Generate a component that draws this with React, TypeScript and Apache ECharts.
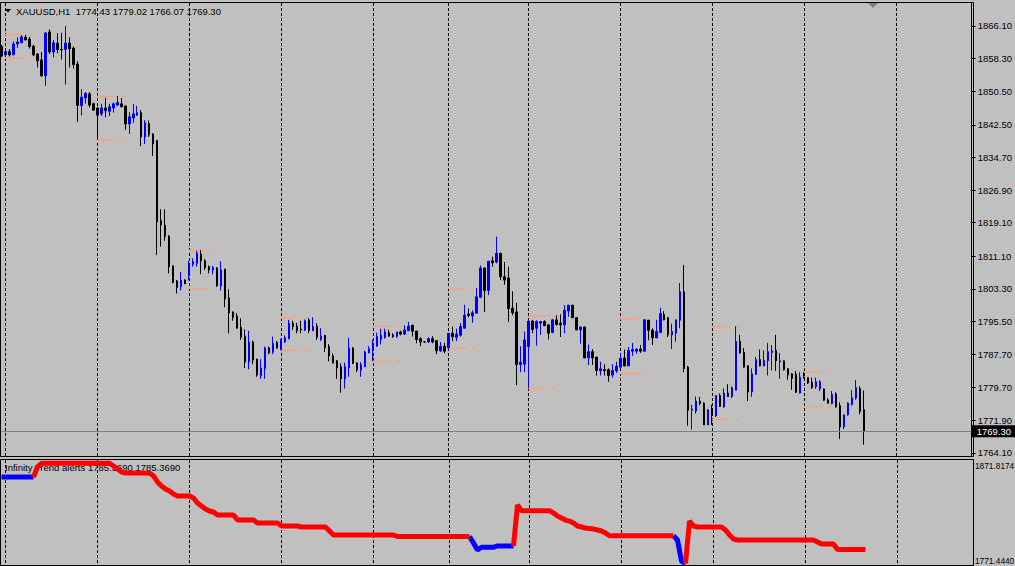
import React, { useEffect, useRef } from 'react';
import * as echarts from 'echarts';

const SYMBOL = 'XAUUSD,H1';
const LAST_OHLC = [1774.43, 1779.02, 1766.07, 1769.3];
const INDICATOR_NAME = 'Infinity Trend alerts';
const INDICATOR_LAST = [1785.369, 1785.369];

const opens = [
  1861.2, 1859.2, 1860.0, 1859.2, 1861.8, 1862.1, 1863.4, 1863.0, 1861.3, 1859.4,
  1858.0, 1854.2, 1864.7, 1859.9, 1862.0, 1860.5, 1860.5, 1862.0, 1860.8, 1857.0,
  1847.1, 1848.9, 1849.9, 1847.5, 1846.5, 1845.1, 1846.5, 1845.7, 1846.5, 1847.2,
  1847.5, 1847.0, 1842.7, 1844.1, 1844.8, 1845.4, 1839.6, 1842.8, 1840.3, 1838.7,
  1819.6, 1818.5, 1815.9, 1808.8, 1805.2, 1803.8, 1805.4, 1806.4, 1809.1, 1809.4,
  1811.6, 1810.0, 1808.6, 1807.8, 1808.3, 1804.0, 1808.0, 1801.1, 1797.8, 1796.8,
  1794.1, 1792.0, 1785.8, 1790.6, 1786.5, 1782.5, 1784.2, 1789.2, 1788.2, 1790.6,
  1788.7, 1790.6, 1791.4, 1795.1, 1794.4, 1793.7, 1793.5, 1795.9, 1793.3, 1794.4,
  1791.2, 1792.2, 1789.5, 1787.3, 1786.1, 1784.7, 1781.8, 1784.4, 1789.2, 1785.6,
  1783.9, 1784.7, 1788.0, 1789.0, 1789.6, 1791.2, 1791.7, 1792.8, 1792.3, 1791.9,
  1793.0, 1792.5, 1793.3, 1794.6, 1793.2, 1791.4, 1790.6, 1790.6, 1791.4, 1790.9,
  1788.5, 1789.6, 1789.2, 1792.7, 1791.7, 1792.2, 1793.9, 1797.3, 1796.8, 1797.5,
  1801.3, 1808.3, 1802.9, 1810.0, 1809.7, 1811.8, 1806.2, 1805.9, 1798.7, 1797.8,
  1785.2, 1785.3, 1789.5, 1795.6, 1793.9, 1795.1, 1795.5, 1794.7, 1792.9, 1795.9,
  1795.1, 1794.7, 1798.0, 1799.4, 1796.4, 1793.5, 1794.2, 1786.8, 1788.3, 1787.0,
  1783.7, 1784.0, 1784.0, 1782.7, 1783.7, 1784.6, 1786.8, 1784.9, 1788.4, 1788.4,
  1788.9, 1788.4, 1795.8, 1793.4, 1791.6, 1792.9, 1797.2, 1796.4, 1792.3, 1792.7,
  1795.8, 1802.6, 1784.6, 1774.3, 1774.1, 1776.5, 1776.0, 1770.8, 1774.8, 1773.0,
  1777.8, 1775.1, 1778.4, 1777.6, 1779.1, 1790.8, 1788.1, 1784.9, 1778.7, 1782.9,
  1786.4, 1784.9, 1786.1, 1788.1, 1788.6, 1785.9, 1786.1, 1784.2, 1783.0, 1782.9,
  1778.4, 1782.2, 1782.1, 1781.0, 1779.9, 1779.4, 1779.4, 1776.8, 1775.9, 1778.2,
  1775.4, 1770.3, 1773.2, 1775.7, 1777.2, 1779.5, 1774.43,
];

const highs = [
  1861.6, 1860.6, 1860.6, 1862.4, 1863.4, 1863.9, 1864.0, 1863.5, 1861.6, 1859.6,
  1859.9, 1864.7, 1865.3, 1862.8, 1864.4, 1864.5, 1866.1, 1863.4, 1861.2, 1857.7,
  1851.0, 1850.3, 1850.3, 1847.8, 1846.7, 1847.5, 1848.9, 1847.5, 1847.8, 1849.4,
  1848.9, 1847.0, 1845.5, 1847.5, 1847.0, 1846.0, 1843.6, 1843.5, 1840.5, 1838.9,
  1822.3, 1822.3, 1816.1, 1808.8, 1805.4, 1807.3, 1805.6, 1810.0, 1810.6, 1812.4,
  1812.6, 1810.4, 1808.9, 1808.8, 1808.5, 1809.9, 1808.1, 1803.2, 1797.9, 1797.5,
  1796.3, 1793.6, 1793.3, 1790.9, 1786.6, 1786.5, 1789.5, 1789.5, 1791.9, 1790.8,
  1791.4, 1792.2, 1795.9, 1795.7, 1795.2, 1795.7, 1796.0, 1796.3, 1796.5, 1795.1,
  1793.9, 1792.3, 1790.1, 1787.9, 1786.3, 1785.5, 1785.7, 1791.6, 1789.4, 1785.8,
  1785.8, 1788.5, 1789.6, 1791.2, 1792.8, 1793.8, 1793.8, 1793.5, 1792.7, 1793.0,
  1793.3, 1794.6, 1795.4, 1794.7, 1793.3, 1791.7, 1790.8, 1791.7, 1792.0, 1791.1,
  1790.6, 1790.4, 1792.7, 1794.3, 1793.8, 1795.1, 1799.5, 1798.6, 1798.2, 1803.5,
  1808.9, 1808.3, 1810.0, 1811.0, 1815.8, 1811.8, 1809.7, 1808.6, 1802.7, 1800.0,
  1789.6, 1793.1, 1795.9, 1795.8, 1795.8, 1795.6, 1795.8, 1794.8, 1796.1, 1797.0,
  1797.2, 1799.4, 1799.4, 1799.4, 1796.6, 1794.2, 1794.3, 1790.0, 1788.9, 1787.0,
  1785.9, 1785.3, 1784.3, 1785.3, 1785.9, 1788.0, 1788.8, 1789.4, 1790.4, 1789.1,
  1789.9, 1796.1, 1795.9, 1793.9, 1795.9, 1798.8, 1798.0, 1796.6, 1795.0, 1795.9,
  1804.7, 1809.0, 1784.9, 1775.6, 1777.6, 1777.5, 1776.2, 1774.6, 1775.6, 1777.9,
  1778.3, 1779.5, 1780.5, 1780.0, 1794.4, 1792.3, 1789.2, 1785.1, 1784.3, 1787.0,
  1788.8, 1788.6, 1790.4, 1789.9, 1792.3, 1788.0, 1786.2, 1784.3, 1783.2, 1783.7,
  1783.4, 1783.4, 1782.1, 1782.1, 1782.1, 1781.5, 1779.5, 1777.2, 1778.9, 1778.6,
  1776.2, 1773.2, 1776.2, 1779.1, 1781.5, 1780.0, 1779.02,
];

const lows = [
  1858.7, 1858.7, 1858.8, 1859.2, 1860.8, 1862.0, 1862.6, 1860.7, 1858.9, 1856.2,
  1854.0, 1851.8, 1859.4, 1858.6, 1859.6, 1858.1, 1852.1, 1856.2, 1855.9, 1843.2,
  1844.7, 1847.6, 1846.7, 1845.9, 1838.9, 1844.6, 1844.3, 1844.6, 1845.4, 1847.0,
  1846.7, 1841.3, 1840.3, 1843.0, 1844.6, 1837.4, 1837.9, 1839.6, 1835.0, 1811.4,
  1813.4, 1814.8, 1807.0, 1804.6, 1802.2, 1802.9, 1804.5, 1805.3, 1808.6, 1808.6,
  1806.8, 1807.8, 1807.0, 1806.8, 1803.8, 1802.9, 1798.9, 1792.7, 1795.7, 1793.8,
  1791.1, 1784.4, 1784.1, 1785.3, 1782.3, 1781.8, 1781.8, 1787.7, 1787.7, 1789.0,
  1788.7, 1790.4, 1791.2, 1793.5, 1792.7, 1792.7, 1793.2, 1792.7, 1793.2, 1791.1,
  1790.8, 1788.2, 1786.0, 1785.5, 1781.8, 1778.5, 1779.5, 1782.3, 1785.3, 1783.4,
  1782.3, 1784.6, 1787.9, 1786.1, 1789.5, 1790.0, 1791.4, 1791.9, 1791.6, 1791.6,
  1792.2, 1792.3, 1793.2, 1791.9, 1790.3, 1789.6, 1790.4, 1790.4, 1790.3, 1787.7,
  1788.2, 1787.9, 1789.0, 1790.8, 1790.8, 1791.9, 1793.8, 1796.5, 1795.2, 1797.3,
  1801.1, 1797.8, 1801.8, 1808.6, 1809.4, 1805.4, 1804.3, 1795.4, 1797.0, 1780.3,
  1783.4, 1783.4, 1779.5, 1792.7, 1789.7, 1792.3, 1794.4, 1791.2, 1792.7, 1794.5,
  1791.8, 1792.7, 1796.6, 1796.4, 1793.4, 1790.2, 1786.7, 1785.1, 1785.1, 1782.6,
  1782.6, 1782.6, 1781.1, 1782.1, 1783.2, 1784.5, 1784.8, 1784.9, 1787.3, 1787.8,
  1788.0, 1788.4, 1791.0, 1789.9, 1791.5, 1792.7, 1795.8, 1791.8, 1788.9, 1790.7,
  1793.9, 1783.4, 1770.6, 1769.7, 1773.5, 1775.5, 1770.8, 1770.8, 1770.8, 1772.7,
  1775.1, 1774.9, 1777.5, 1777.2, 1779.1, 1787.8, 1784.5, 1776.5, 1777.5, 1782.7,
  1784.8, 1784.8, 1782.6, 1783.8, 1783.7, 1781.8, 1783.8, 1781.6, 1779.2, 1778.4,
  1778.3, 1781.8, 1780.6, 1779.4, 1779.4, 1778.9, 1776.5, 1775.9, 1775.7, 1774.9,
  1767.4, 1769.8, 1773.0, 1775.4, 1776.8, 1773.3, 1766.07,
];

const closes = [
  1858.9, 1860.0, 1859.2, 1861.8, 1862.3, 1863.5, 1862.8, 1861.2, 1859.2, 1857.8,
  1854.2, 1864.4, 1859.9, 1862.1, 1860.5, 1860.4, 1862.0, 1860.7, 1856.9, 1847.1,
  1849.1, 1850.0, 1847.2, 1846.0, 1844.8, 1846.5, 1845.9, 1846.8, 1847.5, 1847.8,
  1846.8, 1842.7, 1844.4, 1845.1, 1845.4, 1839.6, 1843.0, 1840.1, 1837.9, 1819.3,
  1818.6, 1815.8, 1808.6, 1804.9, 1803.6, 1805.4, 1804.5, 1809.2, 1809.8, 1811.8,
  1810.0, 1808.3, 1807.8, 1808.4, 1804.0, 1807.8, 1800.9, 1797.6, 1796.5, 1793.9,
  1791.7, 1785.8, 1790.6, 1786.3, 1782.7, 1784.4, 1789.2, 1788.0, 1790.3, 1789.2,
  1791.1, 1791.6, 1795.1, 1794.3, 1793.3, 1793.5, 1795.7, 1793.3, 1794.3, 1791.7,
  1792.0, 1789.3, 1787.3, 1785.6, 1784.4, 1781.8, 1784.7, 1789.2, 1785.5, 1783.9,
  1785.2, 1788.2, 1789.0, 1789.8, 1791.9, 1792.2, 1793.0, 1792.0, 1791.9, 1793.0,
  1792.5, 1793.5, 1794.4, 1793.2, 1791.2, 1790.6, 1790.6, 1791.4, 1790.6, 1788.5,
  1789.6, 1788.4, 1792.7, 1791.9, 1792.5, 1794.3, 1797.0, 1797.0, 1797.6, 1801.4,
  1808.3, 1802.9, 1809.9, 1809.5, 1811.8, 1806.2, 1805.4, 1798.6, 1797.6, 1785.2,
  1785.8, 1791.1, 1795.6, 1793.6, 1795.5, 1795.5, 1794.5, 1792.7, 1795.9, 1794.8,
  1794.7, 1798.2, 1799.4, 1796.4, 1793.5, 1794.2, 1786.8, 1788.3, 1786.8, 1783.8,
  1784.2, 1783.8, 1782.6, 1783.8, 1784.8, 1786.7, 1784.9, 1788.6, 1788.8, 1788.9,
  1788.4, 1795.9, 1793.4, 1791.6, 1793.1, 1797.4, 1795.9, 1792.3, 1793.1, 1795.9,
  1802.6, 1784.3, 1774.3, 1774.6, 1776.5, 1775.9, 1770.8, 1774.4, 1773.0, 1777.8,
  1775.2, 1778.4, 1777.6, 1779.7, 1790.7, 1788.0, 1784.6, 1778.7, 1783.0, 1786.4,
  1784.9, 1786.2, 1788.3, 1788.5, 1786.1, 1786.1, 1784.0, 1782.7, 1781.9, 1778.6,
  1782.2, 1781.9, 1780.8, 1779.7, 1781.1, 1781.1, 1776.7, 1776.0, 1778.1, 1775.1,
  1770.3, 1773.2, 1776.0, 1777.3, 1779.7, 1774.0, 1769.3,
];

// Infinity Trend alerts indicator line, one value per bar
const trendValues = [
  1858.1, 1858.1, 1858.1, 1858.1, 1858.1, 1858.1, 1858.1, 1858.1, 1858.1, 1868.1,
  1871.8174, 1871.8174, 1871.8174, 1871.8174, 1871.8174, 1871.8174, 1871.8174, 1871.8174, 1871.8174, 1871.8174,
  1871.8174, 1871.8174, 1871.8174, 1871.8174, 1871.8174, 1871.8174, 1871.8174, 1871.8174, 1869.1, 1866.1,
  1863.1, 1862.1, 1862.1, 1862.1, 1862.1, 1862.1, 1862.1, 1862.1, 1859.1, 1853.1,
  1849.0, 1846.0, 1844.0, 1841.0, 1839.0, 1839.0, 1839.0, 1839.0, 1837.0, 1832.0,
  1829.0, 1826.0, 1824.0, 1823.0, 1820.0, 1820.0, 1820.0, 1820.0, 1820.0, 1814.9,
  1814.9, 1814.9, 1814.9, 1814.9, 1811.9, 1811.9, 1811.9, 1811.9, 1811.9, 1811.9,
  1808.9, 1808.9, 1808.9, 1808.9, 1808.9, 1807.9, 1807.9, 1807.9, 1807.9, 1807.9,
  1807.9, 1807.9, 1803.9, 1799.9, 1799.9, 1799.9, 1799.9, 1799.9, 1799.9, 1799.9,
  1799.9, 1799.9, 1799.9, 1799.9, 1799.9, 1799.9, 1799.9, 1799.9, 1799.9, 1798.4,
  1798.4, 1798.4, 1798.4, 1798.4, 1798.4, 1798.4, 1798.4, 1798.4, 1798.4, 1798.4,
  1798.4, 1798.4, 1798.4, 1798.4, 1798.4, 1798.4, 1798.4, 1798.4, 1791.9, 1784.8,
  1787.6, 1787.6, 1787.6, 1787.6, 1788.9, 1788.9, 1788.9, 1788.9, 1788.9, 1830.0,
  1824.3, 1824.3, 1824.3, 1824.3, 1824.3, 1824.3, 1824.3, 1824.3, 1822.0, 1819.0,
  1817.0, 1814.9, 1813.9, 1811.9, 1808.9, 1807.9, 1806.9, 1806.4, 1805.9, 1804.9,
  1803.9, 1801.9, 1799.2, 1799.2, 1799.2, 1799.2, 1799.2, 1799.2, 1799.2, 1799.2,
  1799.2, 1799.2, 1799.2, 1799.2, 1799.2, 1799.2, 1799.2, 1799.2, 1799.2, 1794.9,
  1773.5, 1771.444, 1813.9, 1808.9, 1807.9, 1807.9, 1807.9, 1807.9, 1807.9, 1807.9,
  1807.9, 1804.9, 1799.9, 1795.9, 1794.9, 1794.9, 1794.9, 1794.9, 1794.9, 1794.9,
  1794.9, 1794.9, 1794.9, 1794.9, 1794.9, 1794.9, 1794.9, 1794.9, 1794.9, 1794.9,
  1794.9, 1794.9, 1794.9, 1794.9, 1792.9, 1790.9, 1790.9, 1790.9, 1790.9, 1785.369,
  1785.369, 1785.369, 1785.369, 1785.369, 1785.369, 1785.369, 1785.369,
];
// bar ranges where the indicator is in up (blue) state
const blueRuns = [[0, 8], [117, 128], [168, 171]];

// day separators (bar index) and daily level markers
const daySeparatorBars = [1, 24, 47, 70, 93, 112, 132, 155, 178, 201, 224];
const levelBars = [1, 24, 47, 70, 93, 112, 132, 155, 178, 201];
const levelHighs = [1864.0, 1849.3, 1812.5, 1796.3, 1794.4, 1803.4, 1796.7, 1796.1, 1794.3, 1783.4];
const levelLows = [1858.4, 1838.8, 1803.4, 1788.6, 1786.0, 1789.1, 1779.5, 1783.1, 1772.1, 1775.2];

const priceTicks = [1866.1, 1858.3, 1850.5, 1842.5, 1834.7, 1826.9, 1819.1, 1811.1, 1803.3, 1795.5, 1787.7, 1779.7, 1771.9, 1764.1];
const subScaleLabels = [1871.8174, 1771.444];

const TOTAL_SLOTS = 244;
const categories = Array.from({ length: TOTAL_SLOTS }, (_, i) => String(i));

const FONT = 'Tahoma, "Liberation Sans", Arial, sans-serif';
const FS = 9.5;

export default function App() {
  const ref = useRef<HTMLDivElement>(null);
  useEffect(() => {
    if (!ref.current) return;
    const chart = echarts.init(ref.current, undefined, { renderer: 'svg' });

    const candles = opens.map((o, i) => [o, closes[i], lows[i], highs[i]]);
    const inBlue = (i: number) => blueRuns.some(([a, b]) => i >= a && i <= b);
    const inBlueInner = (i: number) => blueRuns.some(([a, b]) => (i > a && i < b) || (a === 0 && i === 0));
    const blueData = trendValues.map((v, i) => (inBlue(i) ? v : null));
    const redData = trendValues.map((v, i) => (inBlueInner(i) ? null : v));
    const levelData: number[][] = [];
    levelBars.forEach((b, k) => {
      levelData.push([b, levelHighs[k]]);
      levelData.push([b, levelLows[k]]);
    });

    const title = `${SYMBOL}  ${LAST_OHLC.map((v) => v.toFixed(2)).join(' ')}`;
    const subTitle = `${INDICATOR_NAME} ${INDICATOR_LAST.map((v) => v.toFixed(4)).join(' ')}`;

    const xAxisBase = {
      type: 'category',
      data: categories,
      boundaryGap: false,
      axisLine: { show: false },
      axisTick: { show: false },
      axisLabel: { show: false },
      splitLine: {
        show: true,
        interval: (index: number) => daySeparatorBars.includes(index),
        lineStyle: { color: '#000000', width: 1, type: [3, 2] },
      },
    };

    const option: any = {
      animation: false,
      backgroundColor: '#C0C0C0',
      grid: [
        { left: 1.5, top: 3, width: 972, height: 453 },
        { left: 1.5, top: 460, width: 972, height: 105 },
      ],
      xAxis: [
        { ...xAxisBase, gridIndex: 0 },
        { ...xAxisBase, gridIndex: 1 },
      ],
      yAxis: [
        {
          type: 'value',
          gridIndex: 0,
          position: 'right',
          min: 1763.37,
          max: 1871.59,
          scale: true,
          splitLine: { show: false },
          axisLine: { show: true, lineStyle: { color: '#000000' } },
          axisTick: { show: true, customValues: priceTicks, length: 4, lineStyle: { color: '#000000' } },
          axisLabel: {
            customValues: priceTicks,
            formatter: (v: number) => v.toFixed(2),
            color: '#000000',
            fontSize: FS,
            fontFamily: FONT,
            margin: 6,
          },
        },
        {
          type: 'value',
          gridIndex: 1,
          position: 'right',
          min: 1769.83,
          max: 1875.13,
          scale: true,
          splitLine: { show: false },
          axisLine: { show: true, lineStyle: { color: '#000000' } },
          axisTick: { show: false },
          axisLabel: { show: false },
        },
      ],
      series: [
        {
          type: 'candlestick',
          xAxisIndex: 0,
          yAxisIndex: 0,
          data: candles,
          barWidth: 2,
          clip: false,
          itemStyle: {
            color: '#0000FF',
            color0: '#000000',
            borderColor: '#0000FF',
            borderColor0: '#000000',
            borderColorDoji: '#000000',
            borderWidth: 1,
          },
          markLine: {
            silent: true,
            symbol: ['none', 'none'],
            data: [{ yAxis: LAST_OHLC[3] }],
            lineStyle: { color: '#808080', width: 1, type: 'solid' },
            label: {
              show: true,
              position: 'end',
              distance: 0,
              formatter: () => LAST_OHLC[3].toFixed(2),
              backgroundColor: '#000000',
              color: '#FFFFFF',
              fontSize: FS,
              fontFamily: FONT,
              lineHeight: 11,
              padding: [1, 10, 0, 5],
            },
          },
        },
        {
          type: 'custom',
          xAxisIndex: 0,
          yAxisIndex: 0,
          data: levelData,
          encode: { x: 0, y: 1 },
          renderItem: (params: any, api: any) => {
            const p = api.coord([api.value(0), api.value(1)]);
            const x = p[0];
            const y = p[1];
            const style = { stroke: '#FFA07A', lineWidth: 1.5 };
            return {
              type: 'group',
              children: [
                { type: 'line', shape: { x1: x - 0.5, y1: y, x2: x + 18, y2: y }, style },
                { type: 'line', shape: { x1: x + 23.5, y1: y, x2: x + 27.5, y2: y }, style },
              ],
            };
          },
        },
        {
          type: 'line',
          xAxisIndex: 1,
          yAxisIndex: 1,
          data: blueData,
          showSymbol: false,
          connectNulls: false,
          lineStyle: { color: '#0000FF', width: 5 },
          z: 3,
        },
        {
          type: 'line',
          xAxisIndex: 1,
          yAxisIndex: 1,
          data: redData,
          showSymbol: false,
          connectNulls: false,
          lineStyle: { color: '#FF0000', width: 5 },
          z: 4,
        },
      ],
      graphic: [
        {
          type: 'polygon',
          shape: { points: [[5, 9], [11, 9], [8, 12.5]] },
          style: { fill: '#000000' },
          silent: true,
        },
        {
          type: 'text',
          x: 16,
          y: 11.5,
          style: { text: title, fill: '#000000', fontSize: FS, fontFamily: FONT, align: 'left', verticalAlign: 'middle' },
          silent: true,
        },
        {
          type: 'polygon',
          shape: { points: [[868, 3], [878, 3], [873, 8]] },
          style: { fill: '#808080' },
          silent: true,
        },
        {
          type: 'text',
          x: 5,
          y: 467.5,
          z: 0,
          style: { text: subTitle, fill: '#000000', fontSize: FS, fontFamily: FONT, align: 'left', verticalAlign: 'middle' },
          silent: true,
        },
        {
          type: 'text',
          x: 975,
          y: 466,
          style: { text: subScaleLabels[0].toFixed(4), fill: '#000000', fontSize: 8.3, fontFamily: FONT, align: 'left', verticalAlign: 'middle' },
          silent: true,
        },
        {
          type: 'text',
          x: 975,
          y: 560.5,
          style: { text: subScaleLabels[1].toFixed(4), fill: '#000000', fontSize: 8.3, fontFamily: FONT, align: 'left', verticalAlign: 'middle' },
          silent: true,
        },
        {
          type: 'rect',
          z: 100,
          shape: { x: 0.5, y: 2.5, width: 973, height: 454 },
          style: { fill: 'none', stroke: '#000000', lineWidth: 1 },
          silent: true,
        },
        {
          type: 'rect',
          z: 100,
          shape: { x: 0.5, y: 459.5, width: 973, height: 106 },
          style: { fill: 'none', stroke: '#000000', lineWidth: 1 },
          silent: true,
        },
      ],
    };

    chart.setOption(option);
    return () => {
      chart.dispose();
    };
  }, []);

  return (
    <div
      ref={ref}
      style={{ position: 'absolute', left: 0, top: 0, width: 1015, height: 566 }}
    />
  );
}
